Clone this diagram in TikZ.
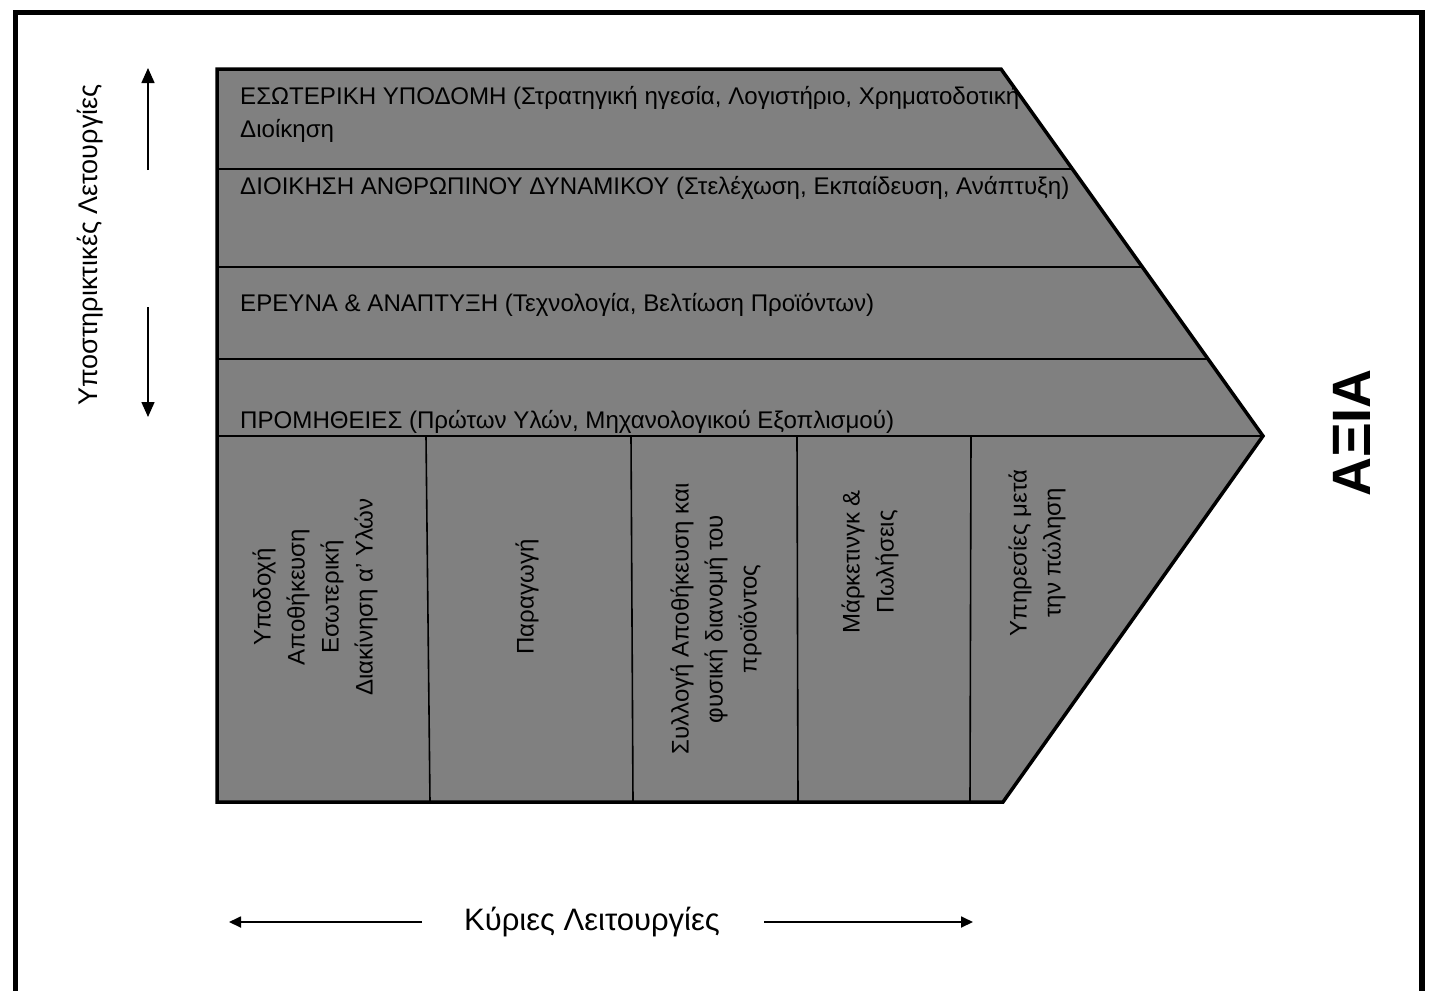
\documentclass[tikz,border=0pt]{standalone}
\usepackage{fontspec}
\setmainfont{Liberation Sans}
\usetikzlibrary{arrows.meta}
\definecolor{bandgray}{RGB}{128,128,128}
\begin{document}
\begin{tikzpicture}[x=1pt,y=-1pt,
  rowtext/.style={anchor=base west, inner sep=0pt, font=\fontsize{24.1}{34}\selectfont},
  coltext/.style={rotate=90, align=center, inner sep=0pt, font=\fontsize{24}{34}\selectfont},
  innerline/.style={line width=1.6pt},
  outline/.style={line width=3.5pt, line join=miter},
  frameline/.style={line width=5.5pt},
  varrow/.style={line width=1.6pt, -{Triangle[length=15pt,width=13pt]}},
  harrow/.style={line width=1.8pt, -{Triangle[length=12pt,width=11pt]}},
]
\useasboundingbox (0,0) rectangle (1433,991);
\fill[white] (0,0) rectangle (1433,991);
% outer frame (open at the bottom)
\draw[frameline] (15.5,1010) -- (15.5,12.5) -- (1422,12.5) -- (1422,1010);

% value chain shape
\coordinate (tl) at (217,69);
\coordinate (tr) at (1001,69);
\coordinate (tip) at (1263,436);
\coordinate (br) at (1003,802);
\coordinate (bl) at (217,802);
\fill[bandgray] (tl) -- (tr) -- (tip) -- (br) -- (bl) -- cycle;

% horizontal dividers
\coordinate (h1l) at (217,169); \coordinate (h1r) at (1072,169);
\coordinate (h2l) at (217,267); \coordinate (h2r) at (1142,267);
\coordinate (h3l) at (217,359); \coordinate (h3r) at (1208,359);
\coordinate (h4l) at (217,436);
\draw[innerline] (h1l) -- (h1r);
\draw[innerline] (h2l) -- (h2r);
\draw[innerline] (h3l) -- (h3r);
\draw[innerline] (h4l) -- (tip);

% vertical dividers
\coordinate (v1t) at (426,436); \coordinate (v1b) at (430,802);
\coordinate (v2t) at (631,436); \coordinate (v2b) at (633,802);
\coordinate (v3t) at (797,436); \coordinate (v3b) at (798,802);
\coordinate (v4t) at (971,436); \coordinate (v4b) at (970,802);
\draw[innerline] (v1t) -- (v1b);
\draw[innerline] (v2t) -- (v2b);
\draw[innerline] (v3t) -- (v3b);
\draw[innerline] (v4t) -- (v4b);

% support activities
\node[rowtext] (r1a) at (240,104) {ΕΣΩΤΕΡΙΚΗ ΥΠΟΔΟΜΗ (Στρατηγική ηγεσία, Λογιστήριο, Χρηματοδοτική};
\node[rowtext] (r1b) at (240,137) {Διοίκηση};
\node[rowtext] (r2) at (240,194) {ΔΙΟΙΚΗΣΗ ΑΝΘΡΩΠΙΝΟΥ ΔΥΝΑΜΙΚΟΥ (Στελέχωση, Εκπαίδευση, Ανάπτυξη)};
\node[rowtext] (r3) at (240,311) {ΕΡΕΥΝΑ \& ΑΝΑΠΤΥΞΗ (Τεχνολογία, Βελτίωση Προϊόντων)};
\node[rowtext] (r4) at (240,428) {ΠΡΟΜΗΘΕΙΕΣ (Πρώτων Υλών, Μηχανολογικού Εξοπλισμού)};

% primary activities
\node[coltext] (c1) at (315,597) {Υποδοχή\\Αποθήκευση\\Εσωτερική\\Διακίνηση α' Υλών};
\node[coltext] (c2) at (527,597) {Παραγωγή};
\node[coltext] (c3) at (716,619) {Συλλογή Αποθήκευση και\\φυσική διανομή του\\προϊόντος};
\node[coltext] (c4) at (870,562) {Μάρκετινγκ \&\\Πωλήσεις};
\node[coltext] (c5) at (1037,553) {Υπηρεσίες μετά\\την πώληση};

% outline on top
\draw[outline] (tl) -- (tr) -- (tip) -- (br) -- (bl) -- cycle;

% side label and arrows
\node[rotate=90, inner sep=0pt, font=\fontsize{27}{30}\selectfont] (sup) at (90,245) {Υποστηρικτικές Λετουργίες};
\coordinate (upS) at (148,170); \coordinate (upE) at (148,68);
\coordinate (dnS) at (148,307); \coordinate (dnE) at (148,417);
\draw[varrow] (upS) -- (upE);
\draw[varrow] (dnS) -- (dnE);

% bottom label and arrows
\node[inner sep=0pt, font=\fontsize{31}{34}\selectfont] (prim) at (592,922) {Κύριες Λειτουργίες};
\coordinate (lS) at (422,922); \coordinate (lE) at (229,922);
\coordinate (rS) at (764,922); \coordinate (rE) at (973,922);
\draw[harrow] (lS) -- (lE);
\draw[harrow] (rS) -- (rE);

% value
\node[rotate=90, inner sep=0pt, font=\fontsize{54}{58}\selectfont\bfseries] (val) at (1352,433) {ΑΞΙΑ};
\end{tikzpicture}
\end{document}
